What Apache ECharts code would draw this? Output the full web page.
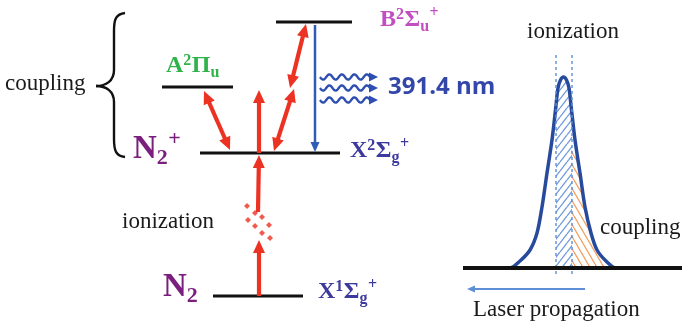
<!DOCTYPE html>
<html><head><meta charset="utf-8">
<script src="https://cdn.jsdelivr.net/npm/echarts@6/dist/echarts.min.js"></script>
<style>html,body{margin:0;padding:0;background:#fff}#c{width:682px;height:324px}</style>
</head><body><div id="c"></div>
<script>
// ---------- data (diagram units: x across, y = energy/height, downward) ----------
const levelX1 = [276, 162, 200, 213];          // B2Σu+, A2Πu, X2Σg+, X1Σg+
const levelX2 = [352, 233, 340, 303];
const levelY  = [22, 87, 153, 296];

const redFrom  = [[259,296],[258,212],[259,153],[230,150],[274,151],[290,88]];
const redTo    = [[259,240],[259,155],[259,90],[204,91],[294,89],[306,24]];
const redHeads = [1,1,1,2,2,2];

const blueFrom = [315,25];
const blueTo   = [315,152];

const waveY  = [77, 88, 100];
const waveX1 = [320, 320, 320];
const waveX2 = [378, 378, 378];

const ionDotX = [247,255,248,262,255,269,262,270];
const ionDotY = [206,213,220,217,226,225,233,238];

const braceTop = [125,13], braceTip = [96,86], braceBottom = [125,157], braceSpine = 114;

const pulseX = [490,510,520,530,537,542,547,552,555.5,558,560.5,563.5,566.5,569,571.5,575,580,585,591,597,606,616,633];
const pulseY = [268,268,261,250,233,207,173,140,110,88,80,77,80,88,110,140,173,207,233,250,261,268,268];
const gateX = [556, 572];
const gateTop = 55, gateBottom = 275;
const couplingCapY = 147;
const baseline = [463, 682, 268];
const laserFrom = [585,289], laserTo = [467,289];

const labelPieces = [
  [['coupling','b']],
  [['ionization','b']],
  [['N','b'],['2','d'],['+','P']],
  [['N','b'],['2','d']],
  [['A','b'],['2','p'],['\u03A0','b'],['u','d']],
  [['B','b'],['2','p'],['\u03A3','b'],['u','d'],['+','P']],
  [['X','b'],['2','p'],['\u03A3','b'],['g','d'],['+','P']],
  [['X','b'],['1','p'],['\u03A3','b'],['g','d'],['+','P']],
  [['391.4 nm','b']],
  [['ionization','b']],
  [['coupling','b']],
  [['Laser propagation','b']]
];
const labelX = [5,122,133,163,166,380,350,318,388,527,600,473];
const labelY = [84,222,149,287,66,20,151,292,87,32,228,310];

// ---------- styles ----------
const SERIF = "'Liberation Serif','Times New Roman',serif";
const labelStyle = [
  {c:'#1a1a1a',s:23,w:'normal',f:SERIF},
  {c:'#1a1a1a',s:23,w:'normal',f:SERIF},
  {c:'#7b1f7e',s:33,w:'bold',f:SERIF,ss:22},
  {c:'#7b1f7e',s:33,w:'bold',f:SERIF,ss:22},
  {c:'#2fb34a',s:24,w:'bold',f:SERIF},
  {c:'#c24fc2',s:24,w:'bold',f:SERIF},
  {c:'#3c3a9c',s:24,w:'bold',f:SERIF},
  {c:'#3c3a9c',s:24,w:'bold',f:SERIF},
  {c:'#3347a8',s:24,w:'bold',f:"'Open Sans','DejaVu Sans',sans-serif"},
  {c:'#1a1a1a',s:23,w:'normal',f:SERIF},
  {c:'#1a1a1a',s:23,w:'normal',f:SERIF},
  {c:'#1a1a1a',s:23,w:'normal',f:SERIF}
];
const RED = '#ec3223', BLUE = '#2f5cb6', PULSE = '#284a9c', LIGHTBLUE = '#5d8fd8';

const mctx = document.createElement('canvas').getContext('2d');
function textW(t, w, s, f){ mctx.font = w + ' ' + s + 'px ' + f; return mctx.measureText(t).width; }

function hatch(color, w, h, dir){
  const c = document.createElement('canvas'); c.width = w; c.height = h;
  const g = c.getContext('2d'); g.strokeStyle = color; g.lineWidth = 1.3;
  for (const o of [-w, 0, w]) {
    g.beginPath();
    if (dir > 0) { g.moveTo(o, h); g.lineTo(o + w, 0); }
    else { g.moveTo(o, 0); g.lineTo(o + w, h); }
    g.stroke();
  }
  return c;
}
const blueHatch = hatch('#7099da', 7, 9, 1);
const orangeHatch = hatch('#f4a062', 7, 12, -1);

function yAt(x){
  for (let i = 0; i < pulseX.length - 1; i++) {
    if (x >= pulseX[i] && x <= pulseX[i+1]) {
      const t = (x - pulseX[i]) / (pulseX[i+1] - pulseX[i]);
      return pulseY[i] + t * (pulseY[i+1] - pulseY[i]);
    }
  }
  return baseline[2];
}

function tri(tip, ux, uy, hl, hw, color){
  const nx = -uy, ny = ux;
  const bx = tip[0] - ux*hl, by = tip[1] - uy*hl;
  return {type:'polygon', shape:{points:[tip,[bx+nx*hw/2,by+ny*hw/2],[bx-nx*hw/2,by-ny*hw/2]]}, style:{fill:color}};
}
function arrow(api, p1, p2, heads, color, lw, hl, hw){
  const a = api.coord(p1), b = api.coord(p2);
  const dx = b[0]-a[0], dy = b[1]-a[1], L = Math.hypot(dx,dy), ux = dx/L, uy = dy/L;
  let s = a, e = b; const ch = [];
  if (heads >= 1) { e = [b[0]-ux*hl*0.8, b[1]-uy*hl*0.8]; ch.push(tri(b, ux, uy, hl, hw, color)); }
  if (heads >= 2) { s = [a[0]+ux*hl*0.8, a[1]+uy*hl*0.8]; ch.push(tri(a, -ux, -uy, hl, hw, color)); }
  ch.unshift({type:'line', shape:{x1:s[0],y1:s[1],x2:e[0],y2:e[1]}, style:{stroke:color, lineWidth:lw}});
  return ch;
}

const chart = echarts.init(document.getElementById('c'), null, {renderer:'canvas'});
const option = {
  animation: false,
  backgroundColor: '#fff',
  grid: {left:0, right:0, top:0, bottom:0},
  xAxis: {type:'value', min:0, max:682, show:false},
  yAxis: {type:'value', min:0, max:324, inverse:true, show:false},
  series: [
    { // energy levels
      type:'custom', z:3,
      data: levelY.map((y,i)=>[levelX1[i], y, levelX2[i]]),
      renderItem: (p, api) => {
        const a = api.coord([api.value(0), api.value(1)]), b = api.coord([api.value(2), api.value(1)]);
        return {type:'line', shape:{x1:a[0],y1:a[1],x2:b[0],y2:b[1]}, style:{stroke:'#111', lineWidth:3}};
      }
    },
    { // red transitions
      type:'custom', z:4,
      data: redFrom.map((f,i)=>[f[0],f[1],redTo[i][0],redTo[i][1],redHeads[i]]),
      renderItem: (p, api) => ({type:'group', children: arrow(api,[api.value(0),api.value(1)],[api.value(2),api.value(3)],api.value(4),RED,4.2,13,12)})
    },
    { // blue emission
      type:'custom', z:4,
      data: [[blueFrom[0],blueFrom[1],blueTo[0],blueTo[1]]],
      renderItem: (p, api) => ({type:'group', children: arrow(api,[api.value(0),api.value(1)],[api.value(2),api.value(3)],1,BLUE,2.5,10,9)})
    },
    { // wavy photons
      type:'custom', z:4,
      data: waveY.map((y,i)=>[waveX1[i], y, waveX2[i]]),
      renderItem: (p, api) => {
        const a = api.coord([api.value(0), api.value(1)]), b = api.coord([api.value(2), api.value(1)]);
        const end = b[0] - 7, pts = [];
        for (let x = a[0]; x <= end; x += 0.5) pts.push([x, a[1] + 2.6*Math.sin((x - a[0]) / 12.5 * 2 * Math.PI)]);
        return {type:'group', children:[
          {type:'polyline', shape:{points:pts}, style:{stroke:'#2e4fb2', lineWidth:2.4, fill:null}},
          tri([b[0], a[1]], 1, 0, 9, 9, '#2e4fb2')
        ]};
      }
    },
    { // ionization dots
      type:'scatter', z:4, symbol:'diamond', symbolSize:6, itemStyle:{color:RED},
      data: ionDotX.map((x,i)=>[x, ionDotY[i]])
    },
    { // brace
      type:'custom', z:3,
      data: [[braceTop[0], braceTop[1], braceTip[0], braceTip[1], braceBottom[0], braceBottom[1], braceSpine]],
      renderItem: (p, api) => {
        const T = [api.value(0), api.value(1)], M = [api.value(2), api.value(3)], B = [api.value(4), api.value(5)], sx = api.value(6);
        const c = q => api.coord(q);
        const st = {stroke:'#111', lineWidth:2.4, fill:null};
        const bz = (p0,c1,c2,p1) => { const A=c(p0),C1=c(c1),C2=c(c2),P=c(p1); return {type:'bezierCurve', shape:{x1:A[0],y1:A[1],cpx1:C1[0],cpy1:C1[1],cpx2:C2[0],cpy2:C2[1],x2:P[0],y2:P[1]}, style:st}; };
        const ln = (p0,p1) => { const A=c(p0),P=c(p1); return {type:'line', shape:{x1:A[0],y1:A[1],x2:P[0],y2:P[1]}, style:st}; };
        return {type:'group', children:[
          bz(T,[sx+2,T[1]+1],[sx,T[1]+6],[sx,T[1]+18]),
          ln([sx,T[1]+18],[sx,M[1]-16]),
          bz([sx,M[1]-16],[sx,M[1]-5],[sx-8,M[1]],M),
          bz(M,[sx-8,M[1]],[sx,M[1]+5],[sx,M[1]+16]),
          ln([sx,M[1]+16],[sx,B[1]-18]),
          bz([sx,B[1]-18],[sx,B[1]-6],[sx+2,B[1]-1],B)
        ]};
      }
    },
    { // hatch: ionization window
      type:'custom', z:2,
      data: [[gateX[0], gateX[1], baseline[2]]],
      renderItem: (p, api) => {
        const a = api.value(0), b = api.value(1), yb = api.value(2), pts = [];
        for (let x = a; x <= b + 1e-6; x += 0.5) pts.push(api.coord([x, yAt(x) + 2]));
        pts.push(api.coord([b, yb])); pts.push(api.coord([a, yb]));
        return {type:'polygon', shape:{points:pts}, style:{fill:{image:blueHatch, repeat:'repeat'}}};
      }
    },
    { // hatch: coupling region
      type:'custom', z:2,
      data: [[gateX[1], pulseX[pulseX.length-3], baseline[2], couplingCapY]],
      renderItem: (p, api) => {
        const a = api.value(0), b = api.value(1), yb = api.value(2), cap = api.value(3), pts = [];
        for (let x = a; x <= b + 1e-6; x += 0.5) pts.push(api.coord([x - 1, Math.max(yAt(x), cap)]));
        pts.push(api.coord([b, yb])); pts.push(api.coord([a, yb]));
        return {type:'polygon', shape:{points:pts}, style:{fill:{image:orangeHatch, repeat:'repeat'}}};
      }
    },
    { // pulse
      type:'line', z:3, smooth:0.3, symbol:'none',
      lineStyle:{color:PULSE, width:3.5},
      data: pulseX.map((x,i)=>[x, pulseY[i]])
    },
    { // dashed window lines
      type:'custom', z:4,
      data: gateX.map(x=>[x, gateTop, gateBottom]),
      renderItem: (p, api) => {
        const a = api.coord([api.value(0), api.value(1)]), b = api.coord([api.value(0), api.value(2)]);
        return {type:'line', shape:{x1:a[0],y1:a[1],x2:b[0],y2:b[1]}, style:{stroke:LIGHTBLUE, lineWidth:1.4, lineDash:[3,3]}};
      }
    },
    { // baseline
      type:'custom', z:5,
      data: [[baseline[0], baseline[2], baseline[1]]],
      renderItem: (p, api) => {
        const a = api.coord([api.value(0), api.value(1)]), b = api.coord([api.value(2), api.value(1)]);
        return {type:'line', shape:{x1:a[0],y1:a[1],x2:b[0],y2:b[1]}, style:{stroke:'#111', lineWidth:4}};
      }
    },
    { // laser arrow
      type:'custom', z:4,
      data: [[laserFrom[0],laserFrom[1],laserTo[0],laserTo[1]]],
      renderItem: (p, api) => ({type:'group', children: arrow(api,[api.value(0),api.value(1)],[api.value(2),api.value(3)],1,LIGHTBLUE,1.8,8,7)})
    },
    { // labels
      type:'custom', z:6,
      data: labelX.map((x,i)=>[x, labelY[i], i]),
      renderItem: (p, api) => {
        const i = api.value(2), st = labelStyle[i];
        const o = api.coord([api.value(0), api.value(1)]);
        let x = o[0]; const ch = [];
        const S = st.s, ss = st.ss || Math.round(S*0.66);
        for (const [t, r] of labelPieces[i]) {
          const size = r === 'b' ? S : ss;
          const dy = r === 'b' ? 0 : r === 'p' ? -0.22*S : r === 'P' ? -0.3*S : 0.27*S;
          ch.push({type:'text', x:x, y:o[1]+dy, style:{text:t, fill:st.c, fontSize:size, fontWeight:st.w, fontFamily:st.f, align:'left', verticalAlign:'middle'}});
          x += textW(t, st.w, size, st.f) + (r === 'b' ? 0 : 0.5);
        }
        return {type:'group', children:ch};
      }
    }
  ]
};
chart.setOption(option);
</script>
</body></html>
